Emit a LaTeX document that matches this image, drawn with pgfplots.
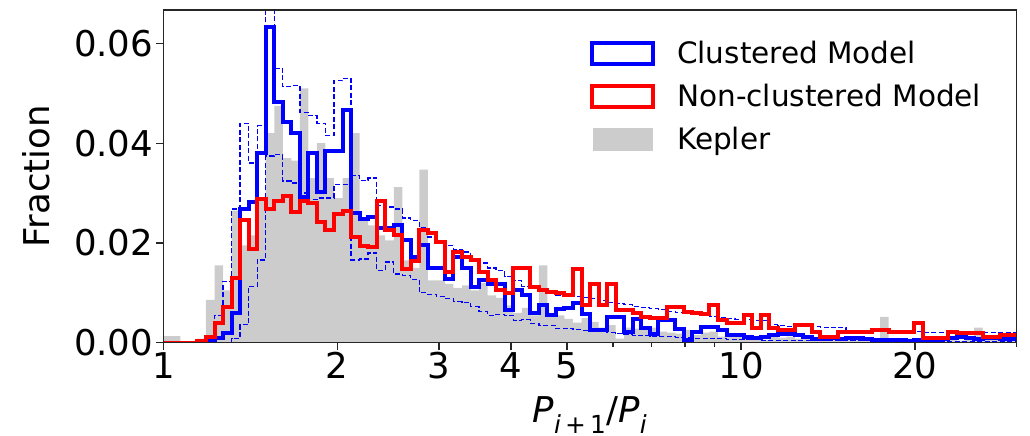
\documentclass[border=0pt]{standalone}
\usepackage{fontspec}
\setmainfont{DejaVu Sans}
\usepackage{pgfplots}
\usepackage{pgfplotstable}
\pgfplotsset{compat=1.18}

% Period-ratio histograms on 100 log-spaced bins from 1 to 30.
% x = left bin edge; last row closes the final bin at 30.
\pgfplotstableread{
x kep cl nc up lo
1.0000 0.0013 0 0 0 0
1.0346 0.0013 0 0 0 0
1.0704 0 0 0 0 0
1.1074 0 0 0 0 0
1.1458 0.0008 0 0.0003 0 0
1.1854 0.0086 0.0003 0.0012 0.0008 0
1.2264 0.0155 0.0010 0.0040 0.0055 0
1.2689 0.0105 0.0019 0.0072 0.0123 0
1.3128 0.0265 0.0060 0.0130 0.0268 0.0008
1.3582 0.0195 0.0268 0.0245 0.0440 0.0036
1.4052 0.0215 0.0282 0.0188 0.0360 0.0113
1.4538 0.0290 0.0380 0.0288 0.0435 0.0166
1.5041 0.0420 0.0632 0.0268 0.0700 0.0374
1.5562 0.0475 0.0482 0.0285 0.0550 0.0377
1.6100 0.0370 0.0442 0.0294 0.0513 0.0324
1.6657 0.0365 0.0420 0.0262 0.0515 0.0320
1.7234 0.0510 0.0292 0.0285 0.0462 0.0300
1.7830 0.0330 0.0380 0.0280 0.0455 0.0287
1.8447 0.0400 0.0303 0.0242 0.0440 0.0290
1.9085 0.0330 0.0385 0.0226 0.0415 0.0290
1.9746 0.0290 0.0385 0.0258 0.0525 0.0317
2.0429 0.0330 0.0467 0.0265 0.0530 0.0317
2.1136 0.0420 0.0260 0.0212 0.0335 0.0166
2.1867 0.0250 0.0248 0.0193 0.0325 0.0168
2.2624 0.0235 0.0253 0.0192 0.0330 0.0180
2.3407 0.0215 0.0229 0.0285 0.0275 0.0145
2.4217 0.0205 0.0229 0.0226 0.0272 0.0162
2.5055 0.0312 0.0236 0.0215 0.0268 0.0138
2.5922 0.0165 0.0205 0.0148 0.0250 0.0135
2.6819 0.0150 0.0172 0.0164 0.0245 0.0127
2.7747 0.0347 0.0195 0.0225 0.0230 0.0100
2.8707 0.0125 0.0150 0.0219 0.0212 0.0097
2.9700 0.0125 0.0150 0.0202 0.0200 0.0092
3.0728 0.0118 0.0128 0.0142 0.0195 0.0088
3.1791 0.0110 0.0172 0.0182 0.0187 0.0082
3.2891 0.0115 0.0150 0.0172 0.0182 0.0080
3.4030 0.0105 0.0112 0.0165 0.0168 0.0072
3.5207 0.0120 0.0125 0.0142 0.0160 0.0062
3.6425 0.0095 0.0118 0.0125 0.0150 0.0055
3.7686 0.0090 0.0118 0.0105 0.0145 0.0057
3.8990 0.0075 0.0065 0.0099 0.0133 0.0055
4.0339 0.0060 0.0105 0.0149 0.0125 0.0045
4.1735 0.0070 0.0095 0.0149 0.0113 0.0046
4.3179 0.0055 0.0060 0.0112 0.0110 0.0039
4.4673 0.0155 0.0075 0.0105 0.0102 0.0035
4.6219 0.0060 0.0055 0.0102 0.0102 0.0035
4.7818 0.0055 0.0068 0.0099 0.0095 0.0029
4.9473 0.0048 0.0070 0.0095 0.0095 0.0029
5.1185 0.0040 0.0079 0.0148 0.0093 0.0026
5.2956 0.0050 0.0058 0.0075 0.0090 0.0024
5.4772 0.0042 0.0025 0.0118 0.0088 0.0022
5.6667 0.0030 0.0025 0.0075 0.0085 0.0022
5.8628 0.0035 0.0052 0.0118 0.0080 0.0020
6.0657 0.0008 0.0052 0.0065 0.0078 0.0018
6.2756 0.0030 0.0022 0.0065 0.0076 0.0016
6.4928 0.0028 0.0048 0.0059 0.0072 0.0015
6.7174 0.0025 0.0030 0.0052 0.0070 0.0014
6.9499 0.0030 0.0018 0.0049 0.0068 0.0013
7.1903 0.0022 0.0045 0.0049 0.0066 0.0012
7.4392 0.0020 0.0045 0.0072 0.0063 0.0012
7.6966 0.0018 0.0028 0.0072 0.0060 0.0011
7.9629 0.0025 0.0005 0.0062 0.0058 0.0010
8.2385 0.0015 0.0022 0.0059 0.0056 0.0009
8.5236 0.0020 0.0032 0.0057 0.0054 0.0009
8.8185 0.0022 0.0032 0.0075 0.0052 0.0008
9.1236 0.0012 0.0025 0.0045 0.0050 0.0008
9.4393 0.0018 0.0015 0.0039 0.0048 0.0007
9.7660 0.0015 0.0015 0.0039 0.0047 0.0007
10.1039 0.0012 0.0012 0.0055 0.0046 0.0006
10.4535 0.0010 0.0010 0.0029 0.0045 0.0006
10.8152 0.0006 0.0012 0.0055 0.0044 0.0005
11.1895 0.0012 0.0015 0.0029 0.0036 0.0005
11.5767 0.0010 0.0018 0.0025 0.0034 0.0005
11.9773 0.0012 0.0018 0.0025 0.0033 0.0005
12.3917 0.0008 0.0015 0.0035 0.0033 0.0005
12.8205 0.0010 0.0012 0.0035 0.0032 0.0005
13.2642 0.0010 0.0008 0.0022 0.0032 0.0004
13.7232 0.0005 0.0008 0.0012 0.0031 0.0004
14.1980 0.0008 0.0010 0.0012 0.0031 0.0004
14.6893 0.0006 0.0008 0.0022 0.0030 0.0004
15.1976 0.0008 0.0010 0.0022 0.0024 0.0004
15.7235 0.0005 0.0010 0.0022 0.0024 0.0004
16.2675 0.0006 0.0008 0.0022 0.0023 0.0004
16.8304 0.0008 0.0006 0.0025 0.0023 0.0004
17.4128 0.0052 0.0005 0.0025 0.0023 0.0004
18.0154 0.0006 0.0005 0.0022 0.0022 0.0003
18.6388 0.0005 0.0006 0.0022 0.0022 0.0003
19.2838 0.0008 0.0004 0.0022 0.0022 0.0003
19.9510 0.0005 0.0005 0.0039 0.0022 0.0003
20.6414 0.0006 0.0004 0.0009 0.0021 0.0003
21.3556 0.0004 0.0004 0.0009 0.0021 0.0003
22.0946 0.0005 0.0008 0.0009 0.0021 0.0003
22.8591 0.0006 0.0010 0.0022 0.0021 0.0003
23.6501 0.0004 0.0012 0.0019 0.0020 0.0003
24.4685 0.0010 0.0010 0.0019 0.0020 0.0003
25.3152 0.0030 0.0008 0.0019 0.0020 0.0003
26.1911 0.0008 0.0010 0.0012 0.0020 0.0003
27.0975 0.0012 0.0010 0.0012 0.0020 0.0003
28.0351 0.0006 0.0008 0.0015 0.0020 0.0003
29.0052 0.0005 0.0008 0.0015 0.0020 0.0003
30.0000 0.0005 0.0008 0.0015 0.0020 0.0003
}\ratios

\pgfplotsset{
  outlinebox/.style={legend image code/.code={%
    \draw[##1] (2pt,-10.5pt) rectangle (63pt,10.5pt);}},
  fillbox/.style={legend image code/.code={%
    \fill[##1] (3pt,-11pt) rectangle (62pt,11pt);}},
}

\begin{document}
\begin{tikzpicture}
\path[use as bounding box] (-163.3pt,-93.3pt) rectangle (866.7pt,342.7pt);
\begin{axis}[
  at={(0pt,0pt)}, anchor=south west,
  scale only axis, width=853.4pt, height=332.7pt,
  xmode=log, xmin=1, xmax=30, ymin=0, ymax=0.0667,
  axis on top,
  axis line style={black!85, line width=1.3pt},
  tick align=outside, tick pos=left,
  major tick length=7pt, minor tick length=4pt,
  every tick/.style={black!85, line width=1.3pt},
  xtick={1,2,3,4,5,10,20}, xticklabels={1,2,3,4,5,10,20},
  minor xtick={6,7,8,9,30},
  ytick={0,0.02,0.04,0.06}, yticklabels={0.00,0.02,0.04,0.06},
  ticklabel style={font=\fontsize{35.5}{42}\selectfont},
  xticklabel style={anchor=north, inner sep=0pt, yshift=-2.5pt},
  yticklabel style={anchor=east, inner sep=0pt, xshift=-3pt},
  every axis x label/.style={at={(axis description cs:0.5,-0.2405)}, anchor=base,
    font=\fontsize{35.5}{42}\selectfont},
  every axis y label/.style={at={(axis description cs:-0.1328,0.5)}, anchor=base,
    rotate=90, font=\fontsize{35.5}{42}\selectfont},
  xlabel={\textit{P}\textsubscript{\textit{i}\,+\,1}/\textit{P}\textsubscript{\textit{i}}},
  ylabel={Fraction},
  legend cell align=left,
  legend style={at={(axis description cs:0.5,0.9136)}, anchor=north west,
    draw=none, fill=none, inner sep=0pt, row sep=14.5pt, column sep=22pt,
    font=\fontsize{29.5}{35}\selectfont,
    nodes={inner sep=0pt, text height=25pt, text depth=3.5pt}},
]
\addlegendimage{outlinebox, blue, line width=4pt}
\addlegendentry{Clustered Model}
\addlegendimage{outlinebox, red, line width=4pt}
\addlegendentry{Non-clustered Model}
\addlegendimage{fillbox, black!20}
\addlegendentry{Kepler}

% observed sample, filled
\addplot[const plot mark left, fill=black!20, draw=none, forget plot]
  table[x=x, y=kep]{\ratios} \closedcycle;
% clustered model: 16th/84th percentile envelope
\addplot[const plot mark left, blue, line width=1.3pt, dash pattern=on 5pt off 2.5pt, forget plot]
  table[x=x, y=up]{\ratios};
\addplot[const plot mark left, blue, line width=1.3pt, dash pattern=on 5pt off 2.5pt, forget plot]
  table[x=x, y=lo]{\ratios};
% clustered model, median
\addplot[const plot mark left, blue, line width=4pt, forget plot]
  table[x=x, y=cl]{\ratios};
% non-clustered model, median
\addplot[const plot mark left, red, line width=4pt, forget plot]
  table[x=x, y=nc]{\ratios};
\end{axis}
\end{tikzpicture}
\end{document}
